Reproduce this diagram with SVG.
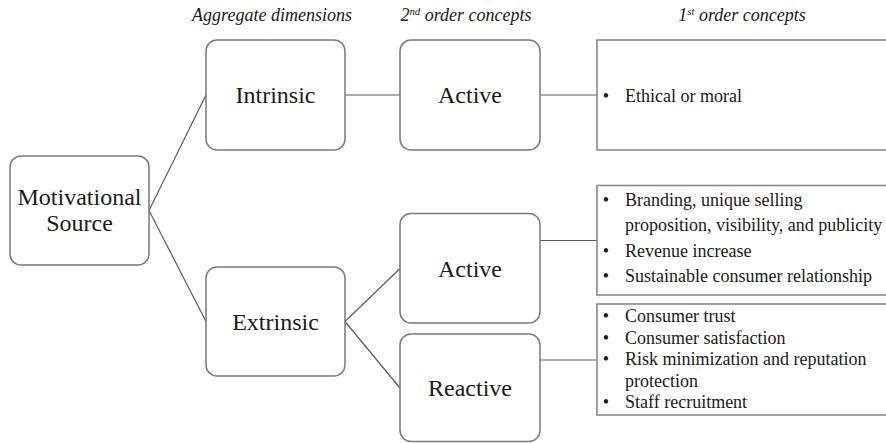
<svg xmlns="http://www.w3.org/2000/svg" width="886" height="443" viewBox="0 0 886 443">
<style>
  .node { fill: #ffffff; stroke: #7a7a7a; stroke-width: 1.5; }
  .list { fill: #ffffff; stroke: #8a8a8a; stroke-width: 1.6; }
  .conn { stroke: #5a5a5a; stroke-width: 1.2; fill: none; }
  text { font-family: 'Liberation Serif', 'Times New Roman', serif; fill: #1a1a1a; }
  .lbl { font-size: 24px; text-anchor: middle; }
  .hdr { font-size: 18px; font-style: italic; text-anchor: middle; }
  .item { font-size: 18px; }
  .bul { font-size: 18px; text-anchor: middle; }
</style>
<rect width="886" height="443" fill="#ffffff"/>

<g id="headers">
  <text class="hdr" x="272" y="21">Aggregate dimensions</text>
  <text class="hdr" x="466" y="21">2<tspan font-size="10.8" dy="-6">nd</tspan><tspan dy="6"> order concepts</tspan></text>
  <text class="hdr" x="742" y="21">1<tspan font-size="10.8" dy="-6">st</tspan><tspan dy="6"> order concepts</tspan></text>
</g>

<g id="connectors">
  <line class="conn" x1="149" y1="210.5" x2="206" y2="95"/>
  <line class="conn" x1="149" y1="210.5" x2="206" y2="321.5"/>
  <line class="conn" x1="345" y1="95" x2="400" y2="95"/>
  <line class="conn" x1="540" y1="95" x2="597" y2="95"/>
  <line class="conn" x1="345" y1="321.5" x2="400" y2="268.5"/>
  <line class="conn" x1="345" y1="321.5" x2="400" y2="388"/>
  <line class="conn" x1="540" y1="240.5" x2="597" y2="240.5"/>
  <line class="conn" x1="540" y1="360" x2="597" y2="360"/>
</g>

<g id="motivational">
  <rect class="node" x="10" y="156" width="139" height="109" rx="11"/>
  <text class="lbl" x="79.5" y="205">Motivational</text>
  <text class="lbl" x="79.5" y="231">Source</text>
</g>

<g id="intrinsic">
  <rect class="node" x="206" y="40" width="139" height="110" rx="11"/>
  <text class="lbl" x="275.5" y="103">Intrinsic</text>
</g>

<g id="extrinsic">
  <rect class="node" x="206" y="267" width="139" height="109" rx="11"/>
  <text class="lbl" x="275.5" y="329.5">Extrinsic</text>
</g>

<g id="active-intrinsic">
  <rect class="node" x="400" y="40" width="140" height="110" rx="11"/>
  <text class="lbl" x="470" y="103">Active</text>
</g>

<g id="active-extrinsic">
  <rect class="node" x="400" y="213.5" width="140" height="109.5" rx="11"/>
  <text class="lbl" x="470" y="276.5">Active</text>
</g>

<g id="reactive">
  <rect class="node" x="400" y="334" width="140" height="107.5" rx="11"/>
  <text class="lbl" x="470" y="396">Reactive</text>
</g>

<g id="first-order-ethical">
  <rect class="list" x="597" y="40" width="300" height="110"/>
  <text class="bul" x="606" y="101.5" font-size="19.5">•</text>
  <text class="item" x="625" y="101.5" font-size="19.5">Ethical or moral</text>
</g>

<g id="first-order-active" font-size="18.4">
  <rect class="list" x="597" y="185.5" width="300" height="109.5"/>
  <text class="bul" x="606" y="206" font-size="18.4">•</text>
  <text class="item" x="625" y="206" font-size="18.4">Branding, unique selling</text>
  <text class="item" x="625" y="231.3" font-size="18.4">proposition, visibility, and publicity</text>
  <text class="bul" x="606" y="256.6" font-size="18.4">•</text>
  <text class="item" x="625" y="256.6" font-size="18.4">Revenue increase</text>
  <text class="bul" x="606" y="281.8" font-size="18.4">•</text>
  <text class="item" x="625" y="281.8" font-size="18.4">Sustainable consumer relationship</text>
</g>

<g id="first-order-reactive">
  <rect class="list" x="597" y="304" width="300" height="111"/>
  <text class="bul" x="606" y="322">•</text>
  <text class="item" x="625" y="322">Consumer trust</text>
  <text class="bul" x="606" y="343.6">•</text>
  <text class="item" x="625" y="343.6">Consumer satisfaction</text>
  <text class="bul" x="606" y="365.2">•</text>
  <text class="item" x="625" y="365.2">Risk minimization and reputation</text>
  <text class="item" x="625" y="386.8">protection</text>
  <text class="bul" x="606" y="408.4">•</text>
  <text class="item" x="625" y="408.4">Staff recruitment</text>
</g>
</svg>
